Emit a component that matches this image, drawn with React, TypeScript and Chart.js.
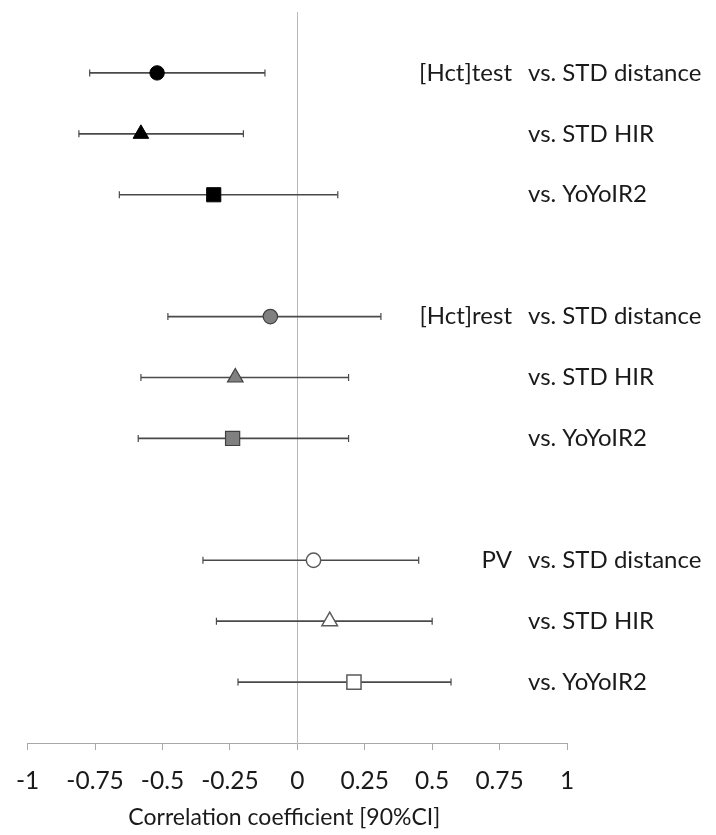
import React, { useEffect, useRef } from "react";
import { Chart, registerables } from "chart.js";

Chart.register(...registerables);

// ---- data ----
const groupLabels = ["[Hct]test", "[Hct]rest", "PV"];
const comparisonLabels = ["vs. STD distance", "vs. STD HIR", "vs. YoYoIR2"];

const hctTestR = [-0.52, -0.58, -0.31];
const hctTestLo = [-0.77, -0.81, -0.66];
const hctTestHi = [-0.12, -0.2, 0.15];

const hctRestR = [-0.1, -0.23, -0.24];
const hctRestLo = [-0.48, -0.58, -0.59];
const hctRestHi = [0.31, 0.19, 0.19];

const pvR = [0.06, 0.12, 0.21];
const pvLo = [-0.35, -0.3, -0.22];
const pvHi = [0.45, 0.5, 0.57];

const xTicks = [-1, -0.75, -0.5, -0.25, 0, 0.25, 0.5, 0.75, 1];
const xTitle = "Correlation coefficient [90%CI]";

const markerStyles = ["circle", "triangle", "rect"];
const markerRadii = [7.2, 9, 10];

const FONT = "Lato, 'Open Sans', sans-serif";

const groups = [
  { r: hctTestR, lo: hctTestLo, hi: hctTestHi, fill: "#000000", border: "#000000", bw: 1 },
  { r: hctRestR, lo: hctRestLo, hi: hctRestHi, fill: "#808080", border: "#404040", bw: 1.2 },
  { r: pvR, lo: pvLo, hi: pvHi, fill: "#ffffff", border: "#5a5a5a", bw: 1.5 },
];

const rowOf = (g: number, i: number) => g * 4 + i;

const errorBarPlugin = {
  id: "errorBars",
  beforeDatasetsDraw(chart: any) {
    const { ctx, scales } = chart;
    const xs = scales.x;
    const ys = scales.y;
    ctx.save();
    ctx.strokeStyle = "#4a4a4a";
    groups.forEach((grp, g) => {
      grp.r.forEach((_, i) => {
        const y = ys.getPixelForValue(rowOf(g, i));
        const x1 = xs.getPixelForValue(grp.lo[i]);
        const x2 = xs.getPixelForValue(grp.hi[i]);
        ctx.lineWidth = 1.6;
        ctx.beginPath();
        ctx.moveTo(x1, y);
        ctx.lineTo(x2, y);
        ctx.stroke();
        ctx.lineWidth = 1.2;
        ctx.beginPath();
        ctx.moveTo(x1, y - 3.5);
        ctx.lineTo(x1, y + 3.5);
        ctx.moveTo(x2, y - 3.5);
        ctx.lineTo(x2, y + 3.5);
        ctx.stroke();
      });
    });
    ctx.restore();
  },
};

const labelPlugin = {
  id: "rowLabels",
  afterDraw(chart: any) {
    const { ctx, scales, chartArea } = chart;
    const ys = scales.y;
    ctx.save();
    ctx.fillStyle = "#1a1a1a";
    ctx.font = `24px ${FONT}`;
    ctx.textBaseline = "middle";
    const suffixX = chartArea.right - 39;
    const prefixX = chartArea.right - 55;
    groups.forEach((grp, g) => {
      grp.r.forEach((_, i) => {
        const y = ys.getPixelForValue(rowOf(g, i));
        ctx.textAlign = "left";
        ctx.fillText(comparisonLabels[i], suffixX, y);
        if (i === 0) {
          ctx.textAlign = "right";
          ctx.fillText(groupLabels[g], prefixX, y);
        }
      });
    });
    // axis title
    ctx.font = `23px ${FONT}`;
    ctx.textAlign = "center";
    const cx = (chartArea.left + chartArea.right) / 2 - 13;
    ctx.fillText(xTitle, cx, chart.height - 17);
    ctx.restore();
  },
};

export default function App() {
  const ref = useRef<HTMLCanvasElement | null>(null);
  useEffect(() => {
    if (!ref.current) return;
    const datasets = groups.map((grp, g) => ({
      label: groupLabels[g],
      data: grp.r.map((v, i) => ({ x: v, y: rowOf(g, i) })),
      pointStyle: markerStyles,
      pointRadius: markerRadii,
      pointBackgroundColor: grp.fill,
      pointBorderColor: grp.border,
      pointBorderWidth: grp.bw,
      showLine: false,
    }));
    const chart = new Chart(ref.current, {
      type: "scatter",
      data: { datasets },
      plugins: [errorBarPlugin, labelPlugin],
      options: {
        animation: false,
        responsive: false,
        layout: { padding: { left: 24, right: 149, top: 12, bottom: 0 } },
        plugins: { legend: { display: false }, tooltip: { enabled: false } },
        scales: {
          x: {
            type: "linear",
            min: -1,
            max: 1,
            afterBuildTicks: (scale: any) => {
              scale.ticks = xTicks.map((v) => ({ value: v }));
            },
            afterFit: (scale: any) => {
              scale.height = 92;
            },
            grid: {
              display: true,
              drawOnChartArea: true,
              color: (c: any) => (c.tick && c.tick.value === 0 ? "#b8b8b8" : "rgba(0,0,0,0)"),
              tickColor: "#a8a8a8",
              tickLength: 7,
              lineWidth: 1,
            },
            border: { display: true, color: "#a8a8a8", width: 1 },
            ticks: {
              color: "#1a1a1a",
              font: { family: FONT, size: 24.5 },
              padding: 16,
              maxRotation: 0,
              autoSkip: false,
              callback: (v: any) => String(v),
            },
          },
          y: {
            type: "linear",
            display: false,
            min: -1,
            max: 11,
            reverse: true,
          },
        },
      },
    });
    return () => chart.destroy();
  }, []);
  return (
    <div style={{ position: "absolute", left: 0, top: 0, width: 716, height: 835, background: "#fff" }}>
      <canvas ref={ref} width={716} height={835} />
    </div>
  );
}
